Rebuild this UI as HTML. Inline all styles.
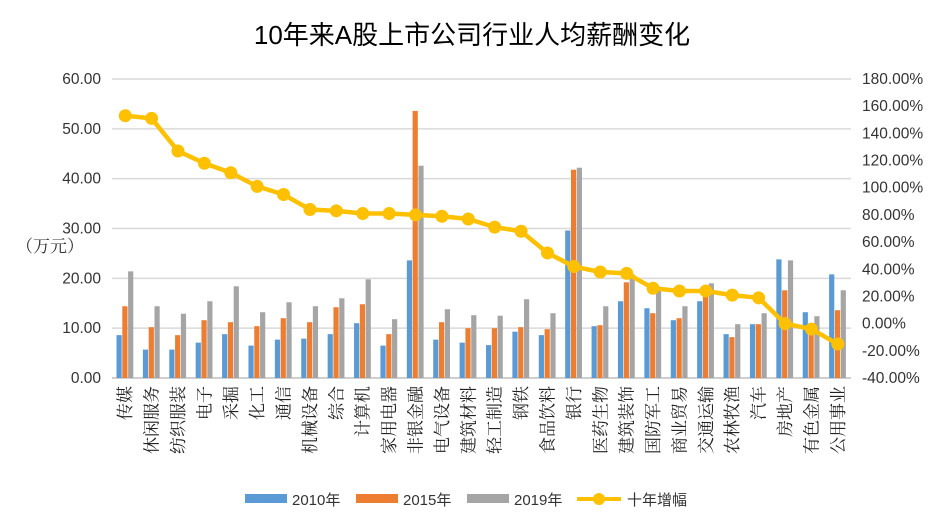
<!DOCTYPE html>
<html><head><meta charset="utf-8"><style>
body{margin:0;background:#fff;}
svg{display:block;font-family:"Liberation Sans","Noto Sans CJK SC",sans-serif;}
</style></head><body>
<svg id="c" width="945" height="532">
<text x="472" y="44" text-anchor="middle" font-size="26" fill="#000">10年来A股上市公司行业人均薪酬变化</text>
<text x="50" y="252" text-anchor="middle" font-size="17" fill="#333" font-family="'Liberation Serif','Noto Serif CJK SC',serif">（万元）</text>
<g id="grid"></g><g id="bars"></g><g id="line"></g><g id="axes"></g>
<g>
<rect x="245" y="494" width="42" height="9" fill="#5b9bd5"/>
<text x="292" y="505" font-size="15" fill="#333">2010年</text>
<rect x="356" y="494" width="42" height="9" fill="#ed7d31"/>
<text x="403" y="505" font-size="15" fill="#333">2015年</text>
<rect x="467" y="494" width="42" height="9" fill="#a5a5a5"/>
<text x="514" y="505" font-size="15" fill="#333">2019年</text>
<line x1="577" y1="499" x2="621" y2="499" stroke="#ffc000" stroke-width="4"/>
<circle cx="599" cy="499" r="6" fill="#ffc000"/>
<text x="627" y="505" font-size="15" fill="#333">十年增幅</text>
</g>
</svg>
<script>
const categories=["传媒","休闲服务","纺织服装","电子","采掘","化工","通信","机械设备","综合","计算机","家用电器","非银金融","电气设备","建筑材料","轻工制造","钢铁","食品饮料","银行","医药生物","建筑装饰","国防军工","商业贸易","交通运输","农林牧渔","汽车","房地产","有色金属","公用事业"];
const s2010=[8.6,5.7,5.7,7.1,8.8,6.5,7.7,7.9,8.8,11,6.5,23.6,7.7,7.1,6.6,9.3,8.6,29.6,10.4,15.4,14,11.6,15.4,8.8,10.8,23.8,13.2,20.8];
const s2015=[14.4,10.2,8.6,11.6,11.2,10.4,12,11.2,14.2,14.8,8.8,53.6,11.2,10,10,10.2,9.8,41.8,10.6,19.2,13,12,18.4,8.2,10.8,17.6,10.7,13.6];
const s2019=[21.4,14.4,12.9,15.4,18.4,13.2,15.2,14.4,16,19.8,11.8,42.6,13.8,12.6,12.5,15.8,13,42.2,14.4,20.8,17.5,14.4,19,10.8,13,23.6,12.4,17.6];
const growth=[153,151,127,118,111,101,95,84,83,81,81,80,79,77,71,68,52,42,38,37,26,24,24,21,19,0,-4,-15];
const leftTicks=["0.00","10.00","20.00","30.00","40.00","50.00","60.00"];
const rightTicks=["-40.00%","-20.00%","0.00%","20.00%","40.00%","60.00%","80.00%","100.00%","120.00%","140.00%","160.00%","180.00%"];
const NS="http://www.w3.org/2000/svg";
const X0=112,X1=851,Y0=378,Y1=79;
const n=categories.length,cw=(X1-X0)/n;
const yL=v=>Y0-(v/60)*(Y0-Y1);
const yR=v=>Y0-((v+40)/220)*(Y0-Y1);
const xc=i=>X0+cw*(i+0.5);
function mk(t,a,p){const e=document.createElementNS(NS,t);for(const k in a)e.setAttribute(k,a[k]);p.appendChild(e);return e;}
const grid=document.getElementById('grid'),axes=document.getElementById('axes');
leftTicks.forEach((t,i)=>{const y=yL(i*10);
 const l=mk('line',{x1:X0,x2:X1,y1:y,y2:y,stroke:i==0?'#bfbfbf':'#d9d9d9','stroke-width':1.5},grid);
 
 
 const tx=mk('text',{x:101,y:y+5,'text-anchor':'end','font-size':15.5,fill:'#333'},axes);tx.textContent=t;
 
 
});
rightTicks.forEach((t,i)=>{const y=yR(-40+i*20);
 const tx=mk('text',{x:862,y:y+5,'font-size':15.5,fill:'#333'},axes);tx.textContent=t;
 
 
});
const bars=document.getElementById('bars');
const series=[[s2010,'#5b9bd5','2010'],[s2015,'#ed7d31','2015'],[s2019,'#a5a5a5','2019']];
const bw=5.2;
categories.forEach((c,i)=>{
 series.forEach((s,j)=>{const v=s[0][i];const x=xc(i)+(j-1.5)*(bw+0.6);
  const r=mk('rect',{x:x,y:yL(v),width:bw,height:Y0-yL(v),fill:s[1]},bars);
  
  
 });
 const t=mk('text',{transform:`translate(${xc(i)+6},386) rotate(-90)`,'text-anchor':'end','font-size':17,fill:'#222','font-family':"'Liberation Serif','Noto Serif CJK SC',serif"},axes);
 t.textContent=c;
 
 
});
const line=document.getElementById('line');
const pl=mk('polyline',{points:growth.map((g,i)=>xc(i)+','+yR(g)).join(' '),fill:'none',stroke:'#ffc000','stroke-width':4.5,'stroke-linejoin':'round'},line);


growth.forEach((g,i)=>{const c=mk('circle',{cx:xc(i),cy:yR(g),r:6.5,fill:'#ffc000'},line);
 
 
});
</script>
</body></html>
